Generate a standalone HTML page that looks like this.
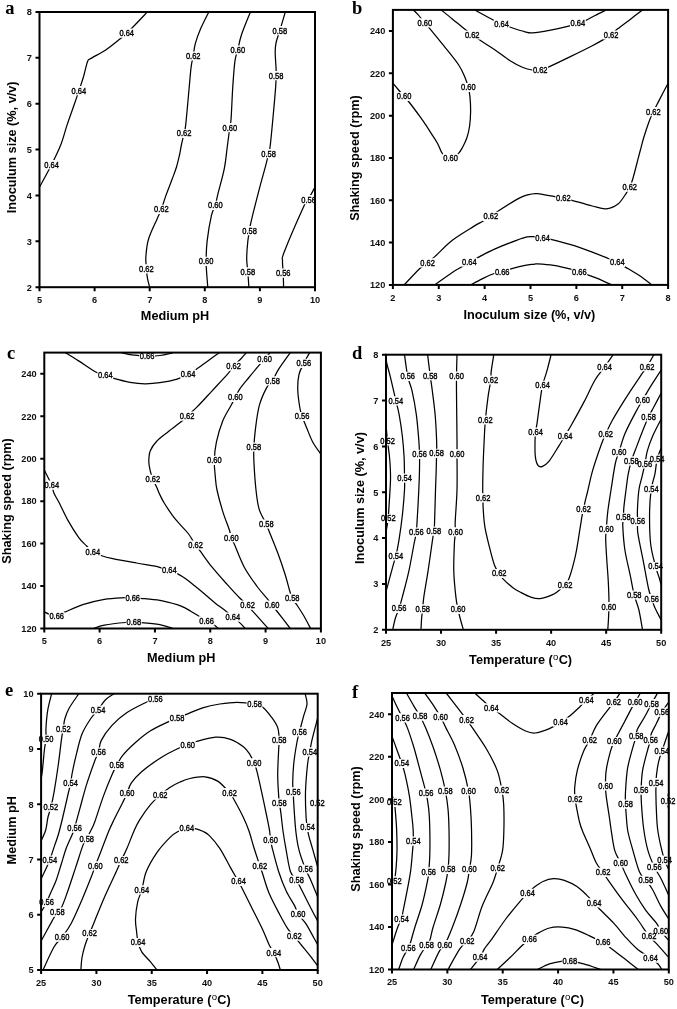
<!DOCTYPE html><html><head><meta charset="utf-8"><style>html,body{margin:0;padding:0;background:#fff;overflow:hidden;width:677px;height:1009px;}svg{display:block;filter:grayscale(1);}.tt{font-family:"Liberation Sans",sans-serif;font-weight:bold;font-size:12.7px;fill:#000;}.tk{font-family:"Liberation Sans",sans-serif;font-weight:bold;font-size:9.2px;fill:#111;}.lb{font-family:"Liberation Sans",sans-serif;font-size:8px;fill:#000;stroke:#000;stroke-width:0.35px;}.let{font-family:"Liberation Serif",serif;font-weight:bold;font-size:18.5px;fill:#000;}</style></head><body>
<svg width="677" height="1009" viewBox="0 0 677 1009">
<rect width="677" height="1009" fill="#fff"/>
<g id="pa">
<clipPath id="ca"><rect x="39.5" y="12" width="275.5" height="275.2"/></clipPath>
<path clip-path="url(#ca)" d="M147.4,11.9C144.92,14.5 135.95,23.97 132.5,27.5C129.05,31.03 128.85,31.13 126.7,33.1C124.55,35.07 123.1,36.48 119.6,39.3C116.1,42.12 110.52,46.8 105.7,50C100.88,53.2 93.73,56.53 90.7,58.5C87.67,60.47 88.75,58.58 87.5,61.8C86.25,65.02 84.63,72.98 83.2,77.8C81.77,82.62 80.33,86.42 78.9,90.7C77.47,94.98 76.57,97.8 74.6,103.5C72.63,109.2 69.42,117.98 67.1,124.9C64.78,131.82 63.3,138.37 60.7,145C58.1,151.63 55,157.73 51.5,164.7C48,171.67 41.67,183.12 39.7,186.8M208.8,12C207.45,14.77 202.95,23.33 200.7,28.6C198.45,33.87 196.55,39.03 195.3,43.6C194.05,48.17 193.9,52.08 193.2,56C192.5,59.92 191.82,61.32 191.1,67.1C190.38,72.88 189.8,81.07 188.9,90.7C188,100.33 186.52,117.77 185.7,124.9C184.88,132.03 184.72,130.15 184,133.5C183.28,136.85 182.15,141.42 181.4,145C180.65,148.58 180.32,151.33 179.5,155C178.68,158.67 177.73,162.95 176.5,167C175.27,171.05 173.92,174.4 172.1,179.3C170.28,184.2 167.38,191.4 165.6,196.4C163.82,201.4 162.82,205.55 161.4,209.3C159.98,213.05 159.25,213.92 157.1,218.9C154.95,223.88 150.37,232.95 148.5,239.2C146.63,245.45 146.25,251.47 145.9,256.4C145.55,261.33 146.15,265.23 146.4,268.8C146.65,272.37 146.87,274.73 147.4,277.8C147.93,280.87 149.23,285.63 149.6,287.2M250.4,12C248.9,15.83 243.5,28.67 241.4,35C239.3,41.33 238.87,45.72 237.8,50C236.73,54.28 235.83,54.63 235,60.7C234.17,66.77 233.45,76.77 232.8,86.4C232.15,96.03 231.6,111.62 231.1,118.5C230.6,125.38 230.4,123.28 229.8,127.7C229.2,132.12 228.42,138.18 227.5,145C226.58,151.82 225.92,160.38 224.3,168.6C222.68,176.82 219.3,188.17 217.8,194.3C216.3,200.43 216.37,201.83 215.3,205.4C214.23,208.97 212.77,209.7 211.4,215.7C210.03,221.7 207.98,233.8 207.1,241.4C206.22,249 206.17,255.95 206.1,261.3C206.03,266.65 206.42,269.18 206.7,273.5C206.98,277.82 207.62,284.92 207.8,287.2M285.3,12C284.38,15.12 281.28,25.62 279.75,30.7C278.22,35.78 276.86,38.93 276.1,42.5C275.34,46.07 275.2,47.63 275.2,52.1C275.2,56.57 275.95,65.37 276.1,69.3C276.25,73.23 276.17,72.85 276.1,75.7C276.03,78.55 276.13,80.33 275.7,86.4C275.27,92.47 274.4,102.33 273.5,112.1C272.6,121.87 271.12,138.08 270.3,145C269.48,151.92 269.32,150.38 268.6,153.6C267.88,156.82 267.68,157.88 266,164.3C264.32,170.72 261,182.47 258.5,192.1C256,201.73 252.5,215.67 251,222.1C249.5,228.53 250.03,227.48 249.5,230.7C248.97,233.92 248.27,236.77 247.8,241.4C247.33,246.03 246.7,253.43 246.7,258.5C246.7,263.57 247.43,267.02 247.8,271.8C248.17,276.58 248.72,284.63 248.9,287.2M315,186C314.93,186.3 315.67,185.7 314.6,187.8C313.53,189.9 310.45,195.38 308.6,198.6C306.75,201.82 307.57,198.18 303.5,207.1C299.43,216.02 287.7,243.17 284.2,252.1C280.7,261.03 282.67,257.2 282.5,260.7C282.33,264.2 283.02,268.68 283.2,273.1C283.38,277.52 283.53,284.85 283.6,287.2" fill="none" stroke="#000" stroke-width="1.25" stroke-linejoin="round"/>
<path d="M118.8,28.5h15.8v9.2h-15.8zM71,86.1h15.8v9.2h-15.8zM43.6,160.1h15.8v9.2h-15.8zM185.3,51.4h15.8v9.2h-15.8zM176.1,128.9h15.8v9.2h-15.8zM153.5,204.7h15.8v9.2h-15.8zM138.5,264.2h15.8v9.2h-15.8zM229.9,45.4h15.8v9.2h-15.8zM221.9,123.1h15.8v9.2h-15.8zM207.4,200.8h15.8v9.2h-15.8zM198.2,256.7h15.8v9.2h-15.8zM271.85,26.1h15.8v9.2h-15.8zM268.2,71.1h15.8v9.2h-15.8zM260.7,149h15.8v9.2h-15.8zM241.6,226.1h15.8v9.2h-15.8zM239.9,267.2h15.8v9.2h-15.8zM300.7,195h15.8v9.2h-15.8zM275.3,268.5h15.8v9.2h-15.8z" fill="#fff"/>
<g class="lb" text-anchor="middle"><text transform="translate(126.7,33.1) scale(0.94,1.17)" y="2.5">0.64</text><text transform="translate(78.9,90.7) scale(0.94,1.17)" y="2.5">0.64</text><text transform="translate(51.5,164.7) scale(0.94,1.17)" y="2.5">0.64</text><text transform="translate(193.2,56) scale(0.94,1.17)" y="2.5">0.62</text><text transform="translate(184,133.5) scale(0.94,1.17)" y="2.5">0.62</text><text transform="translate(161.4,209.3) scale(0.94,1.17)" y="2.5">0.62</text><text transform="translate(146.4,268.8) scale(0.94,1.17)" y="2.5">0.62</text><text transform="translate(237.8,50) scale(0.94,1.17)" y="2.5">0.60</text><text transform="translate(229.8,127.7) scale(0.94,1.17)" y="2.5">0.60</text><text transform="translate(215.3,205.4) scale(0.94,1.17)" y="2.5">0.60</text><text transform="translate(206.1,261.3) scale(0.94,1.17)" y="2.5">0.60</text><text transform="translate(279.75,30.7) scale(0.94,1.17)" y="2.5">0.58</text><text transform="translate(276.1,75.7) scale(0.94,1.17)" y="2.5">0.58</text><text transform="translate(268.6,153.6) scale(0.94,1.17)" y="2.5">0.58</text><text transform="translate(249.5,230.7) scale(0.94,1.17)" y="2.5">0.58</text><text transform="translate(247.8,271.8) scale(0.94,1.17)" y="2.5">0.58</text><text transform="translate(308.6,199.6) scale(0.94,1.17)" y="2.5">0.56</text><text transform="translate(283.2,273.1) scale(0.94,1.17)" y="2.5">0.56</text></g>
<rect x="39.5" y="12" width="275.5" height="275.2" fill="none" stroke="#000" stroke-width="2"/>
<path d="M39.5,287.2v4M94.6,287.2v4M149.7,287.2v4M204.8,287.2v4M259.9,287.2v4M315,287.2v4M39.5,287.2h-4M39.5,241.33h-4M39.5,195.47h-4M39.5,149.6h-4M39.5,103.73h-4M39.5,57.87h-4M39.5,12h-4" stroke="#000" stroke-width="2" fill="none"/>
<g class="tk"><text transform="translate(39.5,303) scale(1,1)" text-anchor="middle">5</text><text transform="translate(94.6,303) scale(1,1)" text-anchor="middle">6</text><text transform="translate(149.7,303) scale(1,1)" text-anchor="middle">7</text><text transform="translate(204.8,303) scale(1,1)" text-anchor="middle">8</text><text transform="translate(259.9,303) scale(1,1)" text-anchor="middle">9</text><text transform="translate(315,303) scale(1,1)" text-anchor="middle">10</text><text transform="translate(31.9,290.5) scale(1,1)" text-anchor="end">2</text><text transform="translate(31.9,244.63) scale(1,1)" text-anchor="end">3</text><text transform="translate(31.9,198.77) scale(1,1)" text-anchor="end">4</text><text transform="translate(31.9,152.9) scale(1,1)" text-anchor="end">5</text><text transform="translate(31.9,107.03) scale(1,1)" text-anchor="end">6</text><text transform="translate(31.9,61.17) scale(1,1)" text-anchor="end">7</text><text transform="translate(31.9,15.3) scale(1,1)" text-anchor="end">8</text></g>
<text x="175" y="320.1" text-anchor="middle" class="tt">Medium pH</text>
<text x="0" y="0" text-anchor="middle" transform="translate(16.4,147.4) rotate(-90)" class="tt">Inoculum size (%, v/v)</text>
<text x="5.3" y="14.2" class="let">a</text>
</g>
<g id="pb">
<clipPath id="cb"><rect x="392.9" y="9.9" width="275.2" height="275"/></clipPath>
<path clip-path="url(#cb)" d="M413.3,9.9C414.08,10.68 416.08,12.45 418,14.6C419.92,16.75 422.83,20.47 424.8,22.8C426.77,25.13 426.65,24.78 429.8,28.6C432.95,32.42 438.88,39.63 443.7,45.7C448.52,51.77 455.13,59.65 458.7,65C462.27,70.35 463.5,74.05 465.1,77.8C466.7,81.55 467.48,84.28 468.3,87.5C469.12,90.72 469.62,93.02 470,97.1C470.38,101.18 470.67,107.18 470.6,112C470.53,116.82 470.2,121.75 469.6,126C469,130.25 468.17,133.97 467,137.5C465.83,141.03 464.08,144.47 462.6,147.2C461.12,149.93 460.12,152.05 458.1,153.9C456.08,155.75 453.08,158.3 450.5,158.3C447.92,158.3 444.73,156.33 442.6,153.9C440.47,151.47 439.55,147.03 437.7,143.7C435.85,140.37 433.57,137.15 431.5,133.9C429.43,130.65 427.22,127.08 425.3,124.2C423.38,121.32 422.65,120.22 420,116.6C417.35,112.98 412.05,105.85 409.4,102.5C406.75,99.15 406.85,99.72 404.1,96.5C401.35,93.28 394.77,85.42 392.9,83.2M441.1,9.9C442.97,11.4 448.48,15.78 452.3,18.9C456.12,22.02 460.68,25.92 464,28.6C467.32,31.28 469.52,33.05 472.2,35C474.88,36.95 476.28,37.8 480.1,40.3C483.92,42.8 490.1,46.6 495.1,50C500.1,53.4 505.47,57.78 510.1,60.7C514.73,63.62 519.25,65.95 522.9,67.5C526.55,69.05 529.12,69.63 532,70C534.88,70.37 537.48,70.18 540.2,69.7C542.92,69.22 543.2,69.32 548.3,67.1C553.4,64.88 563.47,59.97 570.8,56.4C578.13,52.83 586.77,48.55 592.3,45.7C597.83,42.85 600.87,41.08 604,39.3C607.13,37.52 608.77,36.78 611.1,35C613.43,33.22 614.72,31.28 618,28.6C621.28,25.92 626.7,22.02 630.8,18.9C634.9,15.78 640.63,11.4 642.6,9.9M474.7,9.9C477.92,11.65 489.53,18.08 494,20.4C498.47,22.72 498.63,22.62 501.5,23.8C504.37,24.98 507.27,26.17 511.2,27.5C515.13,28.83 521.58,30.92 525.1,31.8C528.62,32.68 528.25,33.05 532.3,32.8C536.35,32.55 543.15,31.47 549.4,30.3C555.65,29.13 565.05,26.98 569.8,25.8C574.55,24.62 575.23,24.1 577.9,23.2C580.57,22.3 582.33,22 585.8,20.4C589.27,18.8 595.3,15.35 598.7,13.6C602.1,11.85 604.95,10.52 606.2,9.9M668.1,83.2C666.52,86.23 661.07,96.65 658.6,101.4C656.13,106.15 654.9,108.32 653.3,111.7C651.7,115.08 650.6,117.35 649,121.7C647.4,126.05 645.13,133.08 643.7,137.8C642.27,142.52 641.3,146.65 640.4,150C639.5,153.35 639.53,153.2 638.3,157.9C637.07,162.6 634.43,173.32 633,178.2C631.57,183.08 630.95,184.52 629.7,187.2C628.45,189.88 627.45,191.52 625.5,194.3C623.55,197.08 621.22,201.48 618,203.9C614.78,206.32 610.48,208.45 606.2,208.8C601.92,209.15 598.02,207.42 592.3,206C586.58,204.58 576.73,201.62 571.9,200.3C567.07,198.98 565.98,198.68 563.3,198.1C560.62,197.52 560.08,197.55 555.8,196.8C551.52,196.05 541.9,194.02 537.6,193.6C533.3,193.18 532.08,193.97 530,194.3C527.92,194.63 527.35,194.72 525.1,195.6C522.85,196.48 520.78,197.15 516.5,199.6C512.22,202.05 503.68,207.52 499.4,210.3C495.12,213.08 493.48,214.52 490.8,216.3C488.12,218.08 486.15,219.32 483.3,221C480.45,222.68 478.87,223.18 473.7,226.4C468.53,229.62 458.73,235.3 452.3,240.3C445.87,245.3 439.22,252.65 435.1,256.4C430.98,260.15 430.1,260.83 427.6,262.8C425.1,264.77 424.02,264.52 420.1,268.2C416.18,271.88 406.77,282.12 404.1,284.9M434.7,284.9C437.63,282.82 447.77,275.43 452.3,272.4C456.83,269.37 459.05,268.4 461.9,266.7C464.75,265 466.72,263.75 469.4,262.2C472.08,260.65 473.72,259.62 478,257.4C482.28,255.18 488.68,251.75 495.1,248.9C501.52,246.05 511.15,242.3 516.5,240.3C521.85,238.3 524.12,237.48 527.2,236.9C530.28,236.32 532.43,236.67 535,236.8C537.57,236.93 540.02,237.3 542.6,237.7C545.18,238.1 545.8,238.05 550.5,239.2C555.2,240.35 563.83,242.45 570.8,244.6C577.77,246.75 586.05,249.78 592.3,252.1C598.55,254.42 604.13,256.78 608.3,258.5C612.47,260.22 614.43,260.97 617.3,262.4C620.17,263.83 621.82,264.9 625.5,267.1C629.18,269.3 635.02,272.63 639.4,275.6C643.78,278.57 649.73,283.35 651.8,284.9M470.5,284.9C472.45,283.9 478.28,280.8 482.2,278.9C486.12,277 490.67,274.68 494,273.5C497.33,272.32 499.52,272.52 502.2,271.8C504.88,271.08 506.28,270.27 510.1,269.2C513.92,268.13 521.28,266.22 525.1,265.4C528.92,264.58 530.92,264.55 533,264.3C535.08,264.05 534.15,263.72 537.6,263.9C541.05,264.08 548.17,264.52 553.7,265.4C559.23,266.28 566.52,268.1 570.8,269.2C575.08,270.3 576.72,271.1 579.4,272C582.08,272.9 583.33,273.28 586.9,274.6C590.47,275.92 596.7,278.18 600.8,279.9C604.9,281.62 609.72,284.07 611.5,284.9" fill="none" stroke="#000" stroke-width="1.25" stroke-linejoin="round"/>
<path d="M416.9,18.2h15.8v9.2h-15.8zM460.4,82.9h15.8v9.2h-15.8zM396.2,91.9h15.8v9.2h-15.8zM442.6,153.7h15.8v9.2h-15.8zM464.3,30.4h15.8v9.2h-15.8zM532.3,65.1h15.8v9.2h-15.8zM603.2,30.4h15.8v9.2h-15.8zM493.6,19.2h15.8v9.2h-15.8zM570,18.6h15.8v9.2h-15.8zM645.4,107.1h15.8v9.2h-15.8zM621.8,182.6h15.8v9.2h-15.8zM555.4,193.5h15.8v9.2h-15.8zM482.9,211.7h15.8v9.2h-15.8zM419.7,258.2h15.8v9.2h-15.8zM461.5,257.6h15.8v9.2h-15.8zM534.7,233.1h15.8v9.2h-15.8zM609.4,257.8h15.8v9.2h-15.8zM494.3,267.2h15.8v9.2h-15.8zM571.5,267.4h15.8v9.2h-15.8z" fill="#fff"/>
<g class="lb" text-anchor="middle"><text transform="translate(424.8,22.8) scale(0.94,1.17)" y="2.5">0.60</text><text transform="translate(468.3,87.5) scale(0.94,1.17)" y="2.5">0.60</text><text transform="translate(404.1,96.5) scale(0.94,1.17)" y="2.5">0.60</text><text transform="translate(450.5,158.3) scale(0.94,1.17)" y="2.5">0.60</text><text transform="translate(472.2,35) scale(0.94,1.17)" y="2.5">0.62</text><text transform="translate(540.2,69.7) scale(0.94,1.17)" y="2.5">0.62</text><text transform="translate(611.1,35) scale(0.94,1.17)" y="2.5">0.62</text><text transform="translate(501.5,23.8) scale(0.94,1.17)" y="2.5">0.64</text><text transform="translate(577.9,23.2) scale(0.94,1.17)" y="2.5">0.64</text><text transform="translate(653.3,111.7) scale(0.94,1.17)" y="2.5">0.62</text><text transform="translate(629.7,187.2) scale(0.94,1.17)" y="2.5">0.62</text><text transform="translate(563.3,198.1) scale(0.94,1.17)" y="2.5">0.62</text><text transform="translate(490.8,216.3) scale(0.94,1.17)" y="2.5">0.62</text><text transform="translate(427.6,262.8) scale(0.94,1.17)" y="2.5">0.62</text><text transform="translate(469.4,262.2) scale(0.94,1.17)" y="2.5">0.64</text><text transform="translate(542.6,237.7) scale(0.94,1.17)" y="2.5">0.64</text><text transform="translate(617.3,262.4) scale(0.94,1.17)" y="2.5">0.64</text><text transform="translate(502.2,271.8) scale(0.94,1.17)" y="2.5">0.66</text><text transform="translate(579.4,272) scale(0.94,1.17)" y="2.5">0.66</text></g>
<rect x="392.9" y="9.9" width="275.2" height="275" fill="none" stroke="#000" stroke-width="2"/>
<path d="M392.9,284.9v4M438.77,284.9v4M484.63,284.9v4M530.5,284.9v4M576.37,284.9v4M622.23,284.9v4M668.1,284.9v4M392.9,284.9h-4M392.9,242.59h-4M392.9,200.28h-4M392.9,157.98h-4M392.9,115.67h-4M392.9,73.36h-4M392.9,31.05h-4" stroke="#000" stroke-width="2" fill="none"/>
<g class="tk"><text transform="translate(392.9,300.7) scale(1,1)" text-anchor="middle">2</text><text transform="translate(438.77,300.7) scale(1,1)" text-anchor="middle">3</text><text transform="translate(484.63,300.7) scale(1,1)" text-anchor="middle">4</text><text transform="translate(530.5,300.7) scale(1,1)" text-anchor="middle">5</text><text transform="translate(576.37,300.7) scale(1,1)" text-anchor="middle">6</text><text transform="translate(622.23,300.7) scale(1,1)" text-anchor="middle">7</text><text transform="translate(668.1,300.7) scale(1,1)" text-anchor="middle">8</text><text transform="translate(385.3,288.2) scale(1,1)" text-anchor="end">120</text><text transform="translate(385.3,245.89) scale(1,1)" text-anchor="end">140</text><text transform="translate(385.3,203.58) scale(1,1)" text-anchor="end">160</text><text transform="translate(385.3,161.28) scale(1,1)" text-anchor="end">180</text><text transform="translate(385.3,118.97) scale(1,1)" text-anchor="end">200</text><text transform="translate(385.3,76.66) scale(1,1)" text-anchor="end">220</text><text transform="translate(385.3,34.35) scale(1,1)" text-anchor="end">240</text></g>
<text x="529.4" y="318.8" text-anchor="middle" class="tt">Inoculum size (%, v/v)</text>
<text x="0" y="0" text-anchor="middle" transform="translate(358.8,158.1) rotate(-90)" class="tt">Shaking speed (rpm)</text>
<text x="352" y="14" class="let">b</text>
</g>
<g id="pc">
<clipPath id="cc"><rect x="44.3" y="352.6" width="276.6" height="275.9"/></clipPath>
<path clip-path="url(#cc)" d="M121.4,352.6C123.18,352.98 127.82,354.32 132.1,354.9C136.38,355.48 142.45,356 147.1,356.1C151.75,356.2 156.08,355.95 160,355.5C163.92,355.05 168.47,353.88 170.6,353.4C172.73,352.92 172.43,352.73 172.8,352.6M65.3,352.6C67.52,353.98 73.53,357.67 78.6,360.9C83.67,364.13 91.25,369.62 95.7,372C100.15,374.38 102.27,374.13 105.3,375.2C108.33,376.27 109.78,377.22 113.9,378.4C118.02,379.58 124.83,381.4 130,382.3C135.17,383.2 139.92,383.73 144.9,383.8C149.88,383.87 154.53,383.48 159.9,382.7C165.27,381.92 172.4,380.53 177.1,379.1C181.8,377.67 184.93,375.72 188.1,374.1C191.27,372.48 192.82,371.6 196.1,369.4C199.38,367.2 203.88,363.7 207.8,360.9C211.72,358.1 217.63,353.98 219.6,352.6M246.4,352.6C245.5,353.62 243.15,356.43 241,358.7C238.85,360.97 235.63,363.77 233.5,366.2C231.37,368.63 231.77,369.2 228.2,373.3C224.63,377.4 217.28,385.2 212.1,390.8C206.92,396.4 201.27,402.68 197.1,406.9C192.93,411.12 189.55,413.78 187.1,416.1C184.65,418.42 185.5,418.23 182.4,420.8C179.3,423.37 172.78,428.1 168.5,431.5C164.22,434.9 159.73,437.98 156.7,441.2C153.67,444.42 151.62,447.42 150.3,450.8C148.98,454.18 148.8,458.1 148.8,461.5C148.8,464.9 149.62,468.23 150.3,471.2C150.98,474.17 151.83,476.63 152.9,479.3C153.97,481.97 155.6,484.75 156.7,487.2C157.8,489.65 158.25,491.37 159.5,494C160.75,496.63 161.98,499.37 164.2,503C166.42,506.63 170.17,512.23 172.8,515.8C175.43,519.37 177.37,521.37 180,524.4C182.63,527.43 186,530.53 188.6,534C191.2,537.47 193.65,542.33 195.6,545.2C197.55,548.07 197.55,547.53 200.3,551.2C203.05,554.87 207.63,561.67 212.1,567.2C216.57,572.73 222.45,579.22 227.1,584.4C231.75,589.58 236.6,594.83 240,598.3C243.4,601.77 245.55,603.23 247.5,605.2C249.45,607.17 249.38,607.5 251.7,610.1C254.02,612.7 258.65,617.73 261.4,620.8C264.15,623.87 267.07,627.22 268.2,628.5M270,352.6C269.1,353.73 266.4,357.32 264.6,359.4C262.8,361.48 261.88,362 259.2,365.1C256.52,368.2 251.7,374.07 248.5,378C245.3,381.93 242.2,385.48 240,388.7C237.8,391.92 236.73,394.62 235.3,397.3C233.87,399.98 233.48,400.88 231.4,404.8C229.32,408.72 225.3,414.57 222.8,420.8C220.3,427.03 217.82,435.6 216.4,442.2C214.98,448.8 214.48,454.68 214.3,460.4C214.12,466.12 214.85,471.57 215.3,476.5C215.75,481.43 215.75,484.15 217,490C218.25,495.85 220.75,504.97 222.8,511.6C224.85,518.23 227.87,525.45 229.3,529.8C230.73,534.15 230.52,535.2 231.4,537.7C232.28,540.2 232.45,539.88 234.6,544.8C236.75,549.72 240.55,560.25 244.3,567.2C248.05,574.15 253.18,581.13 257.1,586.5C261.02,591.87 265.3,596.28 267.8,599.4C270.3,602.52 270.67,603.35 272.1,605.2C273.53,607.05 273.37,606.62 276.4,610.5C279.43,614.38 287.98,625.5 290.3,628.5M290.3,352.6C288.33,355.4 281.47,364.7 278.5,369.4C275.53,374.1 274.47,377.77 272.5,380.8C270.53,383.83 268.92,383.43 266.7,387.6C264.48,391.77 261.08,398.83 259.2,405.8C257.32,412.77 256.28,422.53 255.4,429.4C254.52,436.27 254.15,441.65 253.9,447C253.65,452.35 253.55,454.33 253.9,461.5C254.25,468.67 255.12,482.02 256,490C256.88,497.98 257.48,503.73 259.2,509.4C260.92,515.07 264.68,520.43 266.3,524C267.92,527.57 267.03,526.08 268.9,530.8C270.77,535.52 274.83,545.15 277.5,552.3C280.17,559.45 282.87,567.28 284.9,573.7C286.93,580.12 288.48,586.7 289.7,590.8C290.92,594.9 291.03,595.98 292.2,598.3C293.37,600.62 294.7,601.67 296.7,604.7C298.7,607.73 301.88,612.53 304.2,616.5C306.52,620.47 309.53,626.5 310.6,628.5M309.6,352.6C308.63,354.4 305.58,359.7 303.8,363.4C302.02,367.1 299.9,370.23 298.9,374.8C297.9,379.37 297.63,385.27 297.8,390.8C297.97,396.33 299.18,403.72 299.9,408C300.62,412.28 301.02,413.3 302.1,416.5C303.18,419.7 304.62,422.92 306.4,427.2C308.18,431.48 310.38,437.73 312.8,442.2C315.22,446.67 319.55,452.03 320.9,454M44.3,470.1C45.55,472.6 50.2,481.28 51.8,485.1C53.4,488.92 52.65,490.02 53.9,493C55.15,495.98 56.98,498.48 59.3,503C61.62,507.52 64.58,514.38 67.8,520.1C71.02,525.82 75.57,533.08 78.6,537.3C81.63,541.52 83.62,543.02 86,545.4C88.38,547.78 90.4,549.92 92.9,551.6C95.4,553.28 97.68,554.32 101,555.5C104.32,556.68 106.9,557.45 112.8,558.7C118.7,559.95 129.37,561.77 136.4,563C143.43,564.23 150.87,565.28 155,566.1C159.13,566.92 158.8,567.17 161.2,567.9C163.6,568.63 166.73,569.55 169.4,570.5C172.07,571.45 174.43,572.2 177.2,573.6C179.97,575 183.05,576.83 186,578.9C188.95,580.97 191.8,583.48 194.9,586C198,588.52 201.25,591.18 204.6,594C207.95,596.82 211.43,600.03 215,602.9C218.57,605.77 223.02,608.83 226,611.2C228.98,613.57 230.75,615.32 232.9,617.1C235.05,618.88 236.83,620 238.9,621.9C240.97,623.8 244.23,627.4 245.3,628.5M44.3,611.8C45.25,612.25 47.93,613.88 50,614.5C52.07,615.12 54.27,615.88 56.7,615.5C59.13,615.12 60.25,614 64.6,612.2C68.95,610.4 76.18,606.83 82.8,604.7C89.42,602.57 97.33,600.57 104.3,599.4C111.27,598.23 119.87,597.98 124.6,597.7C129.33,597.42 130.02,597.6 132.7,597.7C135.38,597.8 136.17,597.85 140.7,598.3C145.23,598.75 153.83,599.33 159.9,600.4C165.97,601.47 172.92,603.45 177.1,604.7C181.28,605.95 182.73,606.82 185,607.9C187.27,608.98 188.32,609.77 190.7,611.2C193.08,612.63 196.65,614.9 199.3,616.5C201.95,618.1 204.1,619.37 206.6,620.8C209.1,622.23 212.38,623.82 214.3,625.1C216.22,626.38 217.47,627.93 218.1,628.5M93.5,628.5C95.3,627.93 98.93,626.1 104.3,625.1C109.67,624.1 120.78,622.93 125.7,622.5C130.62,622.07 131.3,622.5 133.8,622.5C136.3,622.5 136.35,622.15 140.7,622.5C145.05,622.85 154.55,623.6 159.9,624.6C165.25,625.6 170.65,627.85 172.8,628.5" fill="none" stroke="#000" stroke-width="1.25" stroke-linejoin="round"/>
<path d="M139.2,351.5h15.8v9.2h-15.8zM97.4,370.6h15.8v9.2h-15.8zM180.2,369.5h15.8v9.2h-15.8zM225.6,361.6h15.8v9.2h-15.8zM179.2,411.5h15.8v9.2h-15.8zM145,474.7h15.8v9.2h-15.8zM256.7,354.8h15.8v9.2h-15.8zM227.4,392.7h15.8v9.2h-15.8zM206.4,455.8h15.8v9.2h-15.8zM264.6,376.2h15.8v9.2h-15.8zM246,442.4h15.8v9.2h-15.8zM295.9,358.8h15.8v9.2h-15.8zM294.2,411.9h15.8v9.2h-15.8zM43.9,480.5h15.8v9.2h-15.8zM85,547h15.8v9.2h-15.8zM161.5,565.9h15.8v9.2h-15.8zM48.8,611.9h15.8v9.2h-15.8zM124.8,593.1h15.8v9.2h-15.8zM125.9,617.9h15.8v9.2h-15.8zM187.7,540.6h15.8v9.2h-15.8zM239.6,600.6h15.8v9.2h-15.8zM223.5,533.1h15.8v9.2h-15.8zM264.2,600.6h15.8v9.2h-15.8zM258.4,519.4h15.8v9.2h-15.8zM284.3,593.7h15.8v9.2h-15.8zM225,612.5h15.8v9.2h-15.8zM198.7,616.2h15.8v9.2h-15.8z" fill="#fff"/>
<g class="lb" text-anchor="middle"><text transform="translate(147.1,356.1) scale(0.94,1.17)" y="2.5">0.66</text><text transform="translate(105.3,375.2) scale(0.94,1.17)" y="2.5">0.64</text><text transform="translate(188.1,374.1) scale(0.94,1.17)" y="2.5">0.64</text><text transform="translate(233.5,366.2) scale(0.94,1.17)" y="2.5">0.62</text><text transform="translate(187.1,416.1) scale(0.94,1.17)" y="2.5">0.62</text><text transform="translate(152.9,479.3) scale(0.94,1.17)" y="2.5">0.62</text><text transform="translate(264.6,359.4) scale(0.94,1.17)" y="2.5">0.60</text><text transform="translate(235.3,397.3) scale(0.94,1.17)" y="2.5">0.60</text><text transform="translate(214.3,460.4) scale(0.94,1.17)" y="2.5">0.60</text><text transform="translate(272.5,380.8) scale(0.94,1.17)" y="2.5">0.58</text><text transform="translate(253.9,447) scale(0.94,1.17)" y="2.5">0.58</text><text transform="translate(303.8,363.4) scale(0.94,1.17)" y="2.5">0.56</text><text transform="translate(302.1,416.5) scale(0.94,1.17)" y="2.5">0.56</text><text transform="translate(51.8,485.1) scale(0.94,1.17)" y="2.5">0.64</text><text transform="translate(92.9,551.6) scale(0.94,1.17)" y="2.5">0.64</text><text transform="translate(169.4,570.5) scale(0.94,1.17)" y="2.5">0.64</text><text transform="translate(56.7,616.5) scale(0.94,1.17)" y="2.5">0.66</text><text transform="translate(132.7,597.7) scale(0.94,1.17)" y="2.5">0.66</text><text transform="translate(133.8,622.5) scale(0.94,1.17)" y="2.5">0.68</text><text transform="translate(195.6,545.2) scale(0.94,1.17)" y="2.5">0.62</text><text transform="translate(247.5,605.2) scale(0.94,1.17)" y="2.5">0.62</text><text transform="translate(231.4,537.7) scale(0.94,1.17)" y="2.5">0.60</text><text transform="translate(272.1,605.2) scale(0.94,1.17)" y="2.5">0.60</text><text transform="translate(266.3,524) scale(0.94,1.17)" y="2.5">0.58</text><text transform="translate(292.2,598.3) scale(0.94,1.17)" y="2.5">0.58</text><text transform="translate(232.9,617.1) scale(0.94,1.17)" y="2.5">0.64</text><text transform="translate(206.6,620.8) scale(0.94,1.17)" y="2.5">0.66</text></g>
<rect x="44.3" y="352.6" width="276.6" height="275.9" fill="none" stroke="#000" stroke-width="2"/>
<path d="M44.3,628.5v4M99.62,628.5v4M154.94,628.5v4M210.26,628.5v4M265.58,628.5v4M320.9,628.5v4M44.3,628.5h-4M44.3,586.05h-4M44.3,543.61h-4M44.3,501.16h-4M44.3,458.72h-4M44.3,416.27h-4M44.3,373.82h-4" stroke="#000" stroke-width="2" fill="none"/>
<g class="tk"><text transform="translate(44.3,644.3) scale(1,1)" text-anchor="middle">5</text><text transform="translate(99.62,644.3) scale(1,1)" text-anchor="middle">6</text><text transform="translate(154.94,644.3) scale(1,1)" text-anchor="middle">7</text><text transform="translate(210.26,644.3) scale(1,1)" text-anchor="middle">8</text><text transform="translate(265.58,644.3) scale(1,1)" text-anchor="middle">9</text><text transform="translate(320.9,644.3) scale(1,1)" text-anchor="middle">10</text><text transform="translate(36.7,631.8) scale(1,1)" text-anchor="end">120</text><text transform="translate(36.7,589.35) scale(1,1)" text-anchor="end">140</text><text transform="translate(36.7,546.91) scale(1,1)" text-anchor="end">160</text><text transform="translate(36.7,504.46) scale(1,1)" text-anchor="end">180</text><text transform="translate(36.7,462.02) scale(1,1)" text-anchor="end">200</text><text transform="translate(36.7,419.57) scale(1,1)" text-anchor="end">220</text><text transform="translate(36.7,377.12) scale(1,1)" text-anchor="end">240</text></g>
<text x="181.2" y="662.4" text-anchor="middle" class="tt">Medium pH</text>
<text x="0" y="0" text-anchor="middle" transform="translate(10.9,500.9) rotate(-90)" class="tt">Shaking speed (rpm)</text>
<text x="6.9" y="359.1" class="let">c</text>
</g>
<g id="pd">
<clipPath id="cd"><rect x="386" y="354.7" width="275.2" height="275.1"/></clipPath>
<path clip-path="url(#cd)" d="M386,425C386.25,427.67 386.95,436 387.5,441C388.05,446 388.83,450.5 389.3,455C389.77,459.5 390.1,463.83 390.3,468C390.5,472.17 390.57,476 390.5,480C390.43,484 390.17,487.33 389.9,492C389.63,496.67 389.18,503.58 388.9,508C388.62,512.42 388.53,515.33 388.2,518.5C387.87,521.67 387.27,524.75 386.9,527C386.53,529.25 386.15,531.17 386,532M386.3,356C386.37,357.15 385.98,359.27 386.7,362.9C387.42,366.53 389.07,371.48 390.6,377.8C392.13,384.12 394.48,394.72 395.9,400.8C397.32,406.88 398.03,408.48 399.1,414.3C400.17,420.12 401.47,428.57 402.3,435.7C403.13,442.83 403.73,450.03 404.1,457.1C404.47,464.17 404.43,472.62 404.5,478.1C404.57,483.58 404.87,483.73 404.5,490C404.13,496.27 403.2,507.48 402.3,515.7C401.4,523.92 400.17,532.58 399.1,539.3C398.03,546.02 396.78,552.08 395.9,556C395.02,559.92 395.4,557.02 393.8,562.8C392.2,568.58 387.55,586.05 386.3,590.7M404.5,354.7C405.03,358.3 406.45,370.3 407.7,376.3C408.95,382.3 410.57,384.37 412,390.7C413.43,397.03 415.17,406.08 416.3,414.3C417.43,422.52 418.27,433.33 418.8,440C419.33,446.67 419.38,449.3 419.5,454.3C419.62,459.3 419.62,464.05 419.5,470C419.38,475.95 419.17,482.03 418.8,490C418.43,497.97 417.72,510.77 417.3,517.8C416.88,524.83 416.83,527.92 416.3,532.2C415.77,536.48 415.35,536.97 414.1,543.5C412.85,550.03 410.77,562.47 408.8,571.4C406.83,580.33 403.92,590.93 402.3,597.1C400.68,603.27 400.27,604.83 399.1,608.4C397.93,611.97 396.37,614.93 395.3,618.5C394.23,622.07 393.13,627.92 392.7,629.8M427.6,354.7C428.03,358.2 429.42,369.7 430.2,375.7C430.98,381.7 431.48,384.27 432.3,390.7C433.12,397.13 434.38,406.08 435.1,414.3C435.82,422.52 436.35,433.48 436.6,440C436.85,446.52 436.67,448.4 436.6,453.4C436.53,458.4 436.38,463.9 436.2,470C436.02,476.1 435.78,480.95 435.5,490C435.22,499.05 434.78,517.45 434.5,524.3C434.22,531.15 434.17,528.25 433.8,531.1C433.43,533.95 433.27,534.68 432.3,541.4C431.33,548.12 429.42,562.12 428,571.4C426.58,580.68 424.68,590.85 423.8,597.1C422.92,603.35 423.07,605.33 422.7,608.9C422.33,612.47 421.88,615.02 421.6,618.5C421.32,621.98 421.1,627.92 421,629.8M457,354.7C456.92,358.27 456.58,369.75 456.5,376.1C456.42,382.45 456.42,382.15 456.5,392.8C456.58,403.45 456.92,429.82 457,440C457.08,450.18 457,445.57 457,453.9C457,462.23 457.3,478.63 457,490C456.7,501.37 455.45,515.13 455.2,522.1C454.95,529.07 455.63,528.23 455.5,531.8C455.37,535.37 454.68,536.9 454.4,543.5C454.12,550.1 453.55,562.47 453.8,571.4C454.05,580.33 455.2,590.78 455.9,597.1C456.6,603.42 457.28,605.73 458,609.3C458.72,612.87 459.3,615.08 460.2,618.5C461.1,621.92 462.87,627.92 463.4,629.8M493.8,354.7C493.37,357.48 491.7,367.18 491.2,371.4C490.7,375.62 491.33,375.72 490.8,380C490.27,384.28 488.9,390.43 488,397.1C487.1,403.77 486,413.57 485.4,420C484.8,426.43 484.78,428.08 484.4,435.7C484.02,443.32 483.38,456.65 483.1,465.7C482.82,474.75 482.7,484.63 482.7,490C482.7,495.37 483.03,495.05 483.1,497.9C483.17,500.75 482.82,502.35 483.1,507.1C483.38,511.85 483.8,519.97 484.8,526.4C485.8,532.83 487.5,539.27 489.1,545.7C490.7,552.13 492.72,560.37 494.4,565C496.08,569.63 497.77,571.18 499.2,573.5C500.63,575.82 500.77,576.57 503,578.9C505.23,581.23 509.77,585.32 512.6,587.5C515.43,589.68 516.98,590.4 520,592C523.02,593.6 527.32,596 530.7,597.1C534.08,598.2 536.73,598.97 540.3,598.6C543.87,598.23 549.05,596.22 552.1,594.9C555.15,593.58 556.45,592.37 558.6,590.7C560.75,589.03 563.22,587.05 565,584.9C566.78,582.75 567.52,582.9 569.3,577.8C571.08,572.7 573.92,562.5 575.7,554.3C577.48,546.1 578.93,535.03 580,528.6C581.07,522.17 581.5,518.92 582.1,515.7C582.7,512.48 583.07,511.8 583.6,509.3C584.13,506.8 584.65,503.58 585.3,500.7C585.95,497.82 586.25,497.13 587.5,492C588.75,486.87 590.48,477.87 592.8,469.9C595.12,461.93 599.25,450.18 601.4,444.2C603.55,438.22 603.92,437.92 605.7,434C607.48,430.08 608.88,426.48 612.1,420.7C615.32,414.92 620.37,406.62 625,399.3C629.63,391.98 636.23,382.23 639.9,376.8C643.57,371.37 644.67,370.38 647,366.7C649.33,363.02 652.75,356.7 653.9,354.7M551.1,354.7C550.38,357.48 548.23,366.3 546.8,371.4C545.37,376.5 543.58,380.65 542.5,385.3C541.42,389.95 541.2,393.05 540.3,399.3C539.4,405.55 537.88,417.35 537.1,422.8C536.32,428.25 535.95,428.78 535.6,432C535.25,435.22 535.03,437.92 535,442.1C534.97,446.28 534.87,453.17 535.4,457.1C535.93,461.03 537.02,464.17 538.2,465.7C539.38,467.23 540.72,467.02 542.5,466.3C544.28,465.58 546.22,464.72 548.9,461.4C551.58,458.08 555.92,450.68 558.6,446.4C561.28,442.12 562.87,439.27 565,435.7C567.13,432.13 568.18,430.72 571.4,425C574.62,419.28 580.37,408.9 584.3,401.4C588.23,393.9 591.62,385.72 595,380C598.38,374.28 601.57,371.32 604.6,367.1C607.63,362.88 611.77,356.77 613.2,354.7M661.2,370C659.43,372.73 653.68,381.42 650.6,386.4C647.52,391.38 645.18,395.62 642.7,399.9C640.22,404.18 638.65,406.5 635.7,412.1C632.75,417.7 627.78,426.85 625,433.5C622.22,440.15 620.62,447 619,452C617.38,457 616.63,457.17 615.3,463.5C613.97,469.83 612.25,482.02 611,490C609.75,497.98 608.58,504.87 607.8,511.4C607.02,517.93 606.65,524.55 606.3,529.2C605.95,533.85 605.63,534.42 605.7,539.3C605.77,544.18 606.28,551.72 606.7,558.5C607.12,565.28 607.83,573.57 608.2,580C608.57,586.43 608.78,592.65 608.9,597.1C609.02,601.55 608.97,603.13 608.9,606.7C608.83,610.27 608.68,614.65 608.5,618.5C608.32,622.35 607.92,627.92 607.8,629.8M661.2,393C659.98,395.3 656.02,402.8 653.9,406.8C651.78,410.8 650.12,413.62 648.5,417C646.88,420.38 646.17,422.2 644.2,427.1C642.23,432 638.83,440.77 636.7,446.4C634.57,452.03 632.82,456.27 631.4,460.9C629.98,465.53 629.1,469.35 628.2,474.2C627.3,479.05 626.72,484.52 626,490C625.28,495.48 624.33,502.53 623.9,507.1C623.47,511.67 623.58,514.18 623.4,517.4C623.22,520.62 622.55,520.97 622.8,526.4C623.05,531.83 623.65,541.78 624.9,550C626.15,558.22 628.75,568.2 630.3,575.7C631.85,583.2 632.77,589.28 634.2,595C635.63,600.72 637.52,604.2 638.9,610C640.28,615.8 641.9,626.5 642.5,629.8M661.2,419C659.8,421.78 655.1,430.42 652.8,435.7C650.5,440.98 648.72,446 647.4,450.7C646.08,455.4 645.78,459.62 644.9,463.9C644.02,468.18 643.1,472.05 642.1,476.4C641.1,480.75 639.68,484.17 638.9,490C638.12,495.83 637.58,506.15 637.4,511.4C637.22,516.65 637.73,517.93 637.8,521.5C637.87,525.07 636.9,526.27 637.8,532.8C638.7,539.33 641.42,551.42 643.2,560.7C644.98,569.98 647.08,582.18 648.5,588.5C649.92,594.82 650.63,595.38 651.7,598.6C652.77,601.82 653.32,604.23 654.9,607.8C656.48,611.37 660.15,617.97 661.2,620M661.2,448C660.52,449.87 658.15,454.83 657.1,459.2C656.05,463.57 655.87,469.27 654.9,474.2C653.93,479.13 652.18,482.6 651.3,488.8C650.42,495 649.72,502.28 649.6,511.4C649.48,520.52 649.6,534.32 650.6,543.5C651.6,552.68 654.17,560.78 655.6,566.5C657.03,572.22 658.27,574.72 659.2,577.8C660.13,580.88 660.87,583.8 661.2,585" fill="none" stroke="#000" stroke-width="1.25" stroke-linejoin="round"/>
<path d="M388,396.2h15.8v9.2h-15.8zM396.6,473.5h15.8v9.2h-15.8zM388,551.4h15.8v9.2h-15.8zM379.6,436.4h15.8v9.2h-15.8zM380.5,513.9h15.8v9.2h-15.8zM399.8,371.7h15.8v9.2h-15.8zM411.6,449.7h15.8v9.2h-15.8zM408.4,527.6h15.8v9.2h-15.8zM391.2,603.8h15.8v9.2h-15.8zM422.3,371.1h15.8v9.2h-15.8zM428.7,448.8h15.8v9.2h-15.8zM425.9,526.5h15.8v9.2h-15.8zM414.8,604.3h15.8v9.2h-15.8zM448.6,371.5h15.8v9.2h-15.8zM449.1,449.3h15.8v9.2h-15.8zM447.6,527.2h15.8v9.2h-15.8zM450.1,604.7h15.8v9.2h-15.8zM482.9,375.4h15.8v9.2h-15.8zM477.5,415.4h15.8v9.2h-15.8zM475.2,493.3h15.8v9.2h-15.8zM491.3,568.9h15.8v9.2h-15.8zM557.1,580.3h15.8v9.2h-15.8zM575.7,504.7h15.8v9.2h-15.8zM534.6,380.7h15.8v9.2h-15.8zM527.7,427.4h15.8v9.2h-15.8zM557.1,431.1h15.8v9.2h-15.8zM596.7,362.5h15.8v9.2h-15.8zM639.1,362.1h15.8v9.2h-15.8zM597.8,429.4h15.8v9.2h-15.8zM634.8,395.3h15.8v9.2h-15.8zM611.1,447.4h15.8v9.2h-15.8zM598.4,524.6h15.8v9.2h-15.8zM601,602.1h15.8v9.2h-15.8zM640.6,412.4h15.8v9.2h-15.8zM623.5,456.3h15.8v9.2h-15.8zM615.5,512.8h15.8v9.2h-15.8zM626.3,590.4h15.8v9.2h-15.8zM637,459.3h15.8v9.2h-15.8zM629.9,516.9h15.8v9.2h-15.8zM643.8,594h15.8v9.2h-15.8zM649.2,454.6h15.8v9.2h-15.8zM643.4,484.2h15.8v9.2h-15.8zM647.7,561.9h15.8v9.2h-15.8z" fill="#fff"/>
<g class="lb" text-anchor="middle"><text transform="translate(395.9,400.8) scale(0.94,1.17)" y="2.5">0.54</text><text transform="translate(404.5,478.1) scale(0.94,1.17)" y="2.5">0.54</text><text transform="translate(395.9,556) scale(0.94,1.17)" y="2.5">0.54</text><text transform="translate(387.5,441) scale(0.94,1.17)" y="2.5">0.52</text><text transform="translate(388.4,518.5) scale(0.94,1.17)" y="2.5">0.52</text><text transform="translate(407.7,376.3) scale(0.94,1.17)" y="2.5">0.56</text><text transform="translate(419.5,454.3) scale(0.94,1.17)" y="2.5">0.56</text><text transform="translate(416.3,532.2) scale(0.94,1.17)" y="2.5">0.56</text><text transform="translate(399.1,608.4) scale(0.94,1.17)" y="2.5">0.56</text><text transform="translate(430.2,375.7) scale(0.94,1.17)" y="2.5">0.58</text><text transform="translate(436.6,453.4) scale(0.94,1.17)" y="2.5">0.58</text><text transform="translate(433.8,531.1) scale(0.94,1.17)" y="2.5">0.58</text><text transform="translate(422.7,608.9) scale(0.94,1.17)" y="2.5">0.58</text><text transform="translate(456.5,376.1) scale(0.94,1.17)" y="2.5">0.60</text><text transform="translate(457,453.9) scale(0.94,1.17)" y="2.5">0.60</text><text transform="translate(455.5,531.8) scale(0.94,1.17)" y="2.5">0.60</text><text transform="translate(458,609.3) scale(0.94,1.17)" y="2.5">0.60</text><text transform="translate(490.8,380) scale(0.94,1.17)" y="2.5">0.62</text><text transform="translate(485.4,420) scale(0.94,1.17)" y="2.5">0.62</text><text transform="translate(483.1,497.9) scale(0.94,1.17)" y="2.5">0.62</text><text transform="translate(499.2,573.5) scale(0.94,1.17)" y="2.5">0.62</text><text transform="translate(565,584.9) scale(0.94,1.17)" y="2.5">0.62</text><text transform="translate(583.6,509.3) scale(0.94,1.17)" y="2.5">0.62</text><text transform="translate(542.5,385.3) scale(0.94,1.17)" y="2.5">0.64</text><text transform="translate(535.6,432) scale(0.94,1.17)" y="2.5">0.64</text><text transform="translate(565,435.7) scale(0.94,1.17)" y="2.5">0.64</text><text transform="translate(604.6,367.1) scale(0.94,1.17)" y="2.5">0.64</text><text transform="translate(647,366.7) scale(0.94,1.17)" y="2.5">0.62</text><text transform="translate(605.7,434) scale(0.94,1.17)" y="2.5">0.62</text><text transform="translate(642.7,399.9) scale(0.94,1.17)" y="2.5">0.60</text><text transform="translate(619,452) scale(0.94,1.17)" y="2.5">0.60</text><text transform="translate(606.3,529.2) scale(0.94,1.17)" y="2.5">0.60</text><text transform="translate(608.9,606.7) scale(0.94,1.17)" y="2.5">0.60</text><text transform="translate(648.5,417) scale(0.94,1.17)" y="2.5">0.58</text><text transform="translate(631.4,460.9) scale(0.94,1.17)" y="2.5">0.58</text><text transform="translate(623.4,517.4) scale(0.94,1.17)" y="2.5">0.58</text><text transform="translate(634.2,595) scale(0.94,1.17)" y="2.5">0.58</text><text transform="translate(644.9,463.9) scale(0.94,1.17)" y="2.5">0.56</text><text transform="translate(637.8,521.5) scale(0.94,1.17)" y="2.5">0.56</text><text transform="translate(651.7,598.6) scale(0.94,1.17)" y="2.5">0.56</text><text transform="translate(657.1,459.2) scale(0.94,1.17)" y="2.5">0.54</text><text transform="translate(651.3,488.8) scale(0.94,1.17)" y="2.5">0.54</text><text transform="translate(655.6,566.5) scale(0.94,1.17)" y="2.5">0.54</text></g>
<rect x="386" y="354.7" width="275.2" height="275.1" fill="none" stroke="#000" stroke-width="2"/>
<path d="M386,629.8v4M441.04,629.8v4M496.08,629.8v4M551.12,629.8v4M606.16,629.8v4M661.2,629.8v4M386,629.8h-4M386,583.95h-4M386,538.1h-4M386,492.25h-4M386,446.4h-4M386,400.55h-4M386,354.7h-4" stroke="#000" stroke-width="2" fill="none"/>
<g class="tk"><text transform="translate(386,645.6) scale(1,1)" text-anchor="middle">25</text><text transform="translate(441.04,645.6) scale(1,1)" text-anchor="middle">30</text><text transform="translate(496.08,645.6) scale(1,1)" text-anchor="middle">35</text><text transform="translate(551.12,645.6) scale(1,1)" text-anchor="middle">40</text><text transform="translate(606.16,645.6) scale(1,1)" text-anchor="middle">45</text><text transform="translate(661.2,645.6) scale(1,1)" text-anchor="middle">50</text><text transform="translate(378.4,633.1) scale(1,1)" text-anchor="end">2</text><text transform="translate(378.4,587.25) scale(1,1)" text-anchor="end">3</text><text transform="translate(378.4,541.4) scale(1,1)" text-anchor="end">4</text><text transform="translate(378.4,495.55) scale(1,1)" text-anchor="end">5</text><text transform="translate(378.4,449.7) scale(1,1)" text-anchor="end">6</text><text transform="translate(378.4,403.85) scale(1,1)" text-anchor="end">7</text><text transform="translate(378.4,358) scale(1,1)" text-anchor="end">8</text></g>
<text x="520.6" y="664.3" text-anchor="middle" class="tt">Temperature (<tspan font-size="9.6" font-weight="normal" dx="0.3" dy="-4.1">o</tspan><tspan dx="0.3" dy="4.1">C)</tspan></text>
<text x="0" y="0" text-anchor="middle" transform="translate(363.6,498) rotate(-90)" class="tt">Inoculum size (%, v/v)</text>
<text x="352" y="359.1" class="let">d</text>
</g>
<g id="pe">
<clipPath id="ce"><rect x="41.1" y="693.7" width="276.6" height="276.3"/></clipPath>
<path clip-path="url(#ce)" d="M51.6,693.7C50.95,696.48 48.63,704.75 47.7,710.4C46.77,716.05 46.28,722.78 46,727.6C45.72,732.42 46.25,735.73 46,739.3C45.75,742.87 45.1,743.82 44.5,749C43.9,754.18 42.97,765.4 42.4,770.4C41.83,775.4 41.32,777.57 41.1,779M78.8,693.7C77.18,696.13 71.43,704.08 69.1,708.3C66.77,712.52 65.77,715.55 64.8,719C63.83,722.45 63.83,725.78 63.3,729C62.77,732.22 62.42,732.47 61.6,738.3C60.78,744.13 59.65,755.08 58.4,764C57.15,772.92 55.35,784.6 54.1,791.8C52.85,799 51.93,802.92 50.9,807.2C49.87,811.48 48.77,813.7 47.9,817.5C47.03,821.3 46.83,826.08 45.7,830C44.57,833.92 41.87,839.17 41.1,841M114.1,693.7C112.67,694.7 108.18,696.98 105.5,699.7C102.82,702.42 100.5,706.78 98,710C95.5,713.22 93.17,715 90.5,719C87.83,723 84.32,728.28 82,734C79.68,739.72 78.22,746.88 76.6,753.3C74.98,759.72 73.3,767.52 72.3,772.5C71.3,777.48 71.3,779.62 70.6,783.2C69.9,786.78 69.42,788.28 68.1,794C66.78,799.72 64.3,810.83 62.7,817.5C61.1,824.17 59.88,829.23 58.5,834C57.12,838.77 55.85,841.75 54.4,846.1C52.95,850.45 50.92,856.97 49.8,860.1C48.68,863.23 48.42,863.3 47.7,864.9C46.98,866.5 46.6,867.35 45.5,869.7C44.4,872.05 41.83,877.45 41.1,879M164.4,693.7C162.9,694.52 158.43,697.17 155.4,698.6C152.37,700.03 150.93,699.97 146.2,702.3C141.47,704.63 132.7,708.75 127,712.6C121.3,716.45 116.28,720.77 112,725.4C107.72,730.03 103.55,735.93 101.3,740.4C99.05,744.87 99.58,748.8 98.5,752.2C97.42,755.6 96.83,755.27 94.8,760.8C92.77,766.33 88.8,777.38 86.3,785.4C83.8,793.42 81.77,801.77 79.8,808.9C77.83,816.03 75.65,824.18 74.5,828.2C73.35,832.22 74.25,829.75 72.9,833C71.55,836.25 68.33,842.53 66.4,847.7C64.47,852.87 62.98,858.62 61.3,864C59.62,869.38 58.1,875.12 56.3,880C54.5,884.88 52.12,889.55 50.5,893.3C48.88,897.05 47.78,900.02 46.6,902.5C45.42,904.98 44.32,906.62 43.4,908.2C42.48,909.78 41.48,911.37 41.1,912M41.1,941C42.92,937.68 49.3,925.92 52,921.1C54.7,916.28 55.7,914.42 57.3,912.1C58.9,909.78 59.98,910.33 61.6,907.2C63.22,904.07 64.67,899.9 67,893.3C69.33,886.7 72.93,875.63 75.6,867.6C78.27,859.57 81.15,849.93 83,845.1C84.85,840.27 85.27,841.28 86.7,838.6C88.13,835.92 90.25,831.8 91.6,829C92.95,826.2 92.83,827.28 94.8,821.8C96.77,816.32 100.53,803.95 103.4,796.1C106.27,788.25 109.78,779.8 112,774.7C114.22,769.6 114.92,768.72 116.7,765.5C118.48,762.28 119.57,759.23 122.7,755.4C125.83,751.57 130.87,746.6 135.5,742.5C140.13,738.4 144.78,734.37 150.5,730.8C156.22,727.23 165.38,723.28 169.8,721.1C174.22,718.92 174.37,718.77 177,717.7C179.63,716.63 181.32,716.35 185.6,714.7C189.88,713.05 197,709.58 202.7,707.8C208.4,706.02 214.08,704.92 219.8,704C225.52,703.08 231.22,702.3 237,702.3C242.78,702.3 250.22,703.18 254.5,704C258.78,704.82 259.92,705.07 262.7,707.2C265.48,709.33 268.7,713.4 271.2,716.8C273.7,720.2 276.37,723.67 277.7,727.6C279.03,731.53 279.03,736.83 279.2,740.4C279.37,743.97 278.95,743.28 278.7,749C278.45,754.72 277.7,766.85 277.7,774.7C277.7,782.55 278.42,791.35 278.7,796.1C278.98,800.85 279.03,800.35 279.4,803.2C279.77,806.05 280.3,808.57 280.9,813.2C281.5,817.83 282.12,824.8 283,831C283.88,837.2 284.95,843.6 286.2,850.4C287.45,857.2 288.78,866.87 290.5,871.8C292.22,876.73 294.72,877.13 296.5,880C298.28,882.87 298.8,884.3 301.2,889C303.6,893.7 308.15,902.87 310.9,908.2C313.65,913.53 316.57,918.87 317.7,921M43,970C44.85,966.13 50.92,952.27 54.1,946.8C57.28,941.33 59.23,941.13 62.1,937.2C64.97,933.27 67.98,929.45 71.3,923.2C74.62,916.95 78.62,907.55 82,899.7C85.38,891.85 89.38,881.75 91.6,876.1C93.82,870.45 93.68,870.08 95.3,865.8C96.92,861.52 99.05,856.2 101.3,850.4C103.55,844.6 106.67,836.13 108.8,831C110.93,825.87 111.78,824.35 114.1,819.6C116.42,814.85 120.55,806.85 122.7,802.5C124.85,798.15 125.58,796.72 127,793.5C128.42,790.28 128.72,786.87 131.2,783.2C133.68,779.53 136.9,775.78 141.9,771.5C146.9,767.22 155.35,761.25 161.2,757.5C167.05,753.75 172.58,751.07 177,749C181.42,746.93 184.48,746.35 187.7,745.1C190.92,743.85 191.65,742.82 196.3,741.5C200.95,740.18 209.9,737.57 215.6,737.2C221.3,736.83 225.87,737.7 230.5,739.3C235.13,740.9 240.18,744.3 243.4,746.8C246.62,749.3 248.02,751.62 249.8,754.3C251.58,756.98 252.95,760.22 254.1,762.9C255.25,765.58 255.45,765.58 256.7,770.4C257.95,775.22 259.88,783.95 261.6,791.8C263.32,799.65 265.67,810.97 267,817.5C268.33,824.03 269,827.23 269.6,831C270.2,834.77 270.15,837.22 270.6,840.1C271.05,842.98 270.95,843.02 272.3,848.3C273.65,853.58 276.38,864.67 278.7,871.8C281.02,878.93 283.52,885.38 286.2,891.1C288.88,896.82 292.83,902.25 294.8,906.1C296.77,909.95 296.22,911.35 298,914.2C299.78,917.05 302.82,919.2 305.5,923.2C308.18,927.2 312.07,934.62 314.1,938.2C316.13,941.78 317.1,943.62 317.7,944.7M80.9,970C81.08,967.92 81.28,961.72 82,957.5C82.72,953.28 83.95,948.7 85.2,944.7C86.45,940.7 88.07,937.08 89.5,933.5C90.93,929.92 91.48,928.83 93.8,923.2C96.12,917.57 99.67,908.27 103.4,899.7C107.13,891.13 113.23,878.33 116.2,871.8C119.17,865.27 119.4,864.42 121.2,860.5C123,856.58 124.87,853.22 127,848.3C129.13,843.38 131.87,835.78 134,831C136.13,826.22 137.05,823.98 139.8,819.6C142.55,815.22 147.1,808.8 150.5,804.7C153.9,800.6 156.98,797.87 160.2,795C163.42,792.13 166.5,789.67 169.8,787.5C173.1,785.33 176.65,783.5 180,782C183.35,780.5 185.77,779.37 189.9,778.5C194.03,777.63 200.17,776.37 204.8,776.8C209.43,777.23 213.58,778.45 217.7,781.1C221.82,783.75 226.82,789.67 229.5,792.7C232.18,795.73 231.48,795.17 233.8,799.3C236.12,803.43 240.87,812.22 243.4,817.5C245.93,822.78 247.22,825.87 249,831C250.78,836.13 252.28,842.5 254.1,848.3C255.92,854.1 258.47,861.52 259.9,865.8C261.33,870.08 261.17,869.42 262.7,874C264.23,878.58 266.25,886.52 269.1,893.3C271.95,900.08 276.58,908.63 279.8,914.7C283.02,920.77 285.97,926.13 288.4,929.7C290.83,933.27 292.43,933.78 294.4,936.1C296.37,938.42 297.63,940.38 300.2,943.6C302.77,946.82 306.88,951.67 309.8,955.4C312.72,959.13 316.38,964.23 317.7,966M156.9,970C155.83,968.63 153,964.77 150.5,961.8C148,958.83 143.97,955.42 141.9,952.2C139.83,948.98 138.98,945.9 138.1,942.5C137.22,939.1 137.03,935.72 136.6,931.8C136.17,927.88 135.32,924 135.5,919C135.68,914 136.63,906.67 137.7,901.8C138.77,896.93 140.48,894.8 141.9,889.8C143.32,884.8 143.7,878 146.2,871.8C148.7,865.6 152.97,858.3 156.9,852.6C160.83,846.9 166.28,841.12 169.8,837.6C173.32,834.08 175.15,832.97 178,831.5C180.85,830.03 184.03,829.27 186.9,828.8C189.77,828.33 192.57,828.28 195.2,828.7C197.83,829.12 200.38,830.18 202.7,831.3C205.02,832.42 206.25,832.57 209.1,835.4C211.95,838.23 216.23,842.93 219.8,848.3C223.37,853.67 227.38,862.07 230.5,867.6C233.62,873.13 236.7,878.3 238.5,881.5C240.3,884.7 239.05,882.35 241.3,886.8C243.55,891.25 248.43,901.05 252,908.2C255.57,915.35 259.85,923.62 262.7,929.7C265.55,935.78 267.25,940.88 269.1,944.7C270.95,948.52 272.37,949.75 273.8,952.6C275.23,955.45 276.6,958.9 277.7,961.8C278.8,964.7 279.95,968.63 280.4,970M305.1,693.7C305.42,695.42 307.28,700.15 307,704C306.72,707.85 304.65,712.17 303.4,716.8C302.15,721.43 300.58,727.52 299.5,731.8C298.42,736.08 297.87,737.13 296.9,742.5C295.93,747.87 294.4,757.22 293.7,764C293,770.78 292.77,778.57 292.7,783.2C292.63,787.83 293.13,788.58 293.3,791.8C293.47,795.02 293.28,795.97 293.7,802.5C294.12,809.03 294.9,823.02 295.8,831C296.7,838.98 297.48,844.07 299.1,850.4C300.72,856.73 303.53,864 305.5,869C307.47,874 308.87,875.73 310.9,880.4C312.93,885.07 316.57,894.23 317.7,897M317.7,718C316.73,721.73 313.22,734.77 311.9,740.4C310.58,746.03 310.52,747.87 309.8,751.8C309.08,755.73 308.32,757.33 307.6,764C306.88,770.67 305.75,782.88 305.5,791.8C305.25,800.72 305.75,811.4 306.1,817.5C306.45,823.6 307.17,825.42 307.6,828.4C308.03,831.38 307.8,831.73 308.7,835.4C309.6,839.07 311.5,845.13 313,850.4C314.5,855.67 316.92,864.23 317.7,867" fill="none" stroke="#000" stroke-width="1.25" stroke-linejoin="round"/>
<path d="M38.1,734.7h15.8v9.2h-15.8zM55.4,724.4h15.8v9.2h-15.8zM43,802.6h15.8v9.2h-15.8zM90.1,705.4h15.8v9.2h-15.8zM62.7,778.6h15.8v9.2h-15.8zM42,855.5h15.8v9.2h-15.8zM147.5,694h15.8v9.2h-15.8zM90.6,747.6h15.8v9.2h-15.8zM66.6,823.6h15.8v9.2h-15.8zM38.7,897.9h15.8v9.2h-15.8zM169.1,713.1h15.8v9.2h-15.8zM108.8,760.9h15.8v9.2h-15.8zM78.8,834h15.8v9.2h-15.8zM49.4,907.5h15.8v9.2h-15.8zM119.1,788.9h15.8v9.2h-15.8zM87.4,861.2h15.8v9.2h-15.8zM54.2,932.6h15.8v9.2h-15.8zM152.3,790.4h15.8v9.2h-15.8zM113.3,855.9h15.8v9.2h-15.8zM81.6,928.9h15.8v9.2h-15.8zM179,823.9h15.8v9.2h-15.8zM134,885.2h15.8v9.2h-15.8zM130.2,937.9h15.8v9.2h-15.8zM246.6,699.4h15.8v9.2h-15.8zM271.3,735.8h15.8v9.2h-15.8zM271.5,798.6h15.8v9.2h-15.8zM179.8,740.5h15.8v9.2h-15.8zM246.2,758.3h15.8v9.2h-15.8zM221.6,788.1h15.8v9.2h-15.8zM291.6,727.2h15.8v9.2h-15.8zM285.4,787.2h15.8v9.2h-15.8zM301.9,747.2h15.8v9.2h-15.8zM299.6,822.9h15.8v9.2h-15.8zM309.5,798.3h15.8v9.2h-15.8zM230.6,876.9h15.8v9.2h-15.8zM265.9,948h15.8v9.2h-15.8zM252,861.2h15.8v9.2h-15.8zM286.5,931.5h15.8v9.2h-15.8zM262.7,835.5h15.8v9.2h-15.8zM290.1,909.6h15.8v9.2h-15.8zM288.6,875.4h15.8v9.2h-15.8zM297.6,864.4h15.8v9.2h-15.8z" fill="#fff"/>
<g class="lb" text-anchor="middle"><text transform="translate(46,739.3) scale(0.94,1.17)" y="2.5">0.50</text><text transform="translate(63.3,729) scale(0.94,1.17)" y="2.5">0.52</text><text transform="translate(50.9,807.2) scale(0.94,1.17)" y="2.5">0.52</text><text transform="translate(98,710) scale(0.94,1.17)" y="2.5">0.54</text><text transform="translate(70.6,783.2) scale(0.94,1.17)" y="2.5">0.54</text><text transform="translate(49.9,860.1) scale(0.94,1.17)" y="2.5">0.54</text><text transform="translate(155.4,698.6) scale(0.94,1.17)" y="2.5">0.56</text><text transform="translate(98.5,752.2) scale(0.94,1.17)" y="2.5">0.56</text><text transform="translate(74.5,828.2) scale(0.94,1.17)" y="2.5">0.56</text><text transform="translate(46.6,902.5) scale(0.94,1.17)" y="2.5">0.56</text><text transform="translate(177,717.7) scale(0.94,1.17)" y="2.5">0.58</text><text transform="translate(116.7,765.5) scale(0.94,1.17)" y="2.5">0.58</text><text transform="translate(86.7,838.6) scale(0.94,1.17)" y="2.5">0.58</text><text transform="translate(57.3,912.1) scale(0.94,1.17)" y="2.5">0.58</text><text transform="translate(127,793.5) scale(0.94,1.17)" y="2.5">0.60</text><text transform="translate(95.3,865.8) scale(0.94,1.17)" y="2.5">0.60</text><text transform="translate(62.1,937.2) scale(0.94,1.17)" y="2.5">0.60</text><text transform="translate(160.2,795) scale(0.94,1.17)" y="2.5">0.62</text><text transform="translate(121.2,860.5) scale(0.94,1.17)" y="2.5">0.62</text><text transform="translate(89.5,933.5) scale(0.94,1.17)" y="2.5">0.62</text><text transform="translate(186.9,828.5) scale(0.94,1.17)" y="2.5">0.64</text><text transform="translate(141.9,889.8) scale(0.94,1.17)" y="2.5">0.64</text><text transform="translate(138.1,942.5) scale(0.94,1.17)" y="2.5">0.64</text><text transform="translate(254.5,704) scale(0.94,1.17)" y="2.5">0.58</text><text transform="translate(279.2,740.4) scale(0.94,1.17)" y="2.5">0.58</text><text transform="translate(279.4,803.2) scale(0.94,1.17)" y="2.5">0.58</text><text transform="translate(187.7,745.1) scale(0.94,1.17)" y="2.5">0.60</text><text transform="translate(254.1,762.9) scale(0.94,1.17)" y="2.5">0.60</text><text transform="translate(229.5,792.7) scale(0.94,1.17)" y="2.5">0.62</text><text transform="translate(299.5,731.8) scale(0.94,1.17)" y="2.5">0.56</text><text transform="translate(293.3,791.8) scale(0.94,1.17)" y="2.5">0.56</text><text transform="translate(309.8,751.8) scale(0.94,1.17)" y="2.5">0.54</text><text transform="translate(307.5,827.5) scale(0.94,1.17)" y="2.5">0.54</text><text transform="translate(317.4,802.9) scale(0.94,1.17)" y="2.5">0.52</text><text transform="translate(238.5,881.5) scale(0.94,1.17)" y="2.5">0.64</text><text transform="translate(273.8,952.6) scale(0.94,1.17)" y="2.5">0.64</text><text transform="translate(259.9,865.8) scale(0.94,1.17)" y="2.5">0.62</text><text transform="translate(294.4,936.1) scale(0.94,1.17)" y="2.5">0.62</text><text transform="translate(270.6,840.1) scale(0.94,1.17)" y="2.5">0.60</text><text transform="translate(298,914.2) scale(0.94,1.17)" y="2.5">0.60</text><text transform="translate(296.5,880) scale(0.94,1.17)" y="2.5">0.58</text><text transform="translate(305.5,869) scale(0.94,1.17)" y="2.5">0.56</text></g>
<rect x="41.1" y="693.7" width="276.6" height="276.3" fill="none" stroke="#000" stroke-width="2"/>
<path d="M41.1,970v4M96.42,970v4M151.74,970v4M207.06,970v4M262.38,970v4M317.7,970v4M41.1,970h-4M41.1,914.74h-4M41.1,859.48h-4M41.1,804.22h-4M41.1,748.96h-4M41.1,693.7h-4" stroke="#000" stroke-width="2" fill="none"/>
<g class="tk"><text transform="translate(41.1,985.8) scale(1,1)" text-anchor="middle">25</text><text transform="translate(96.42,985.8) scale(1,1)" text-anchor="middle">30</text><text transform="translate(151.74,985.8) scale(1,1)" text-anchor="middle">35</text><text transform="translate(207.06,985.8) scale(1,1)" text-anchor="middle">40</text><text transform="translate(262.38,985.8) scale(1,1)" text-anchor="middle">45</text><text transform="translate(317.7,985.8) scale(1,1)" text-anchor="middle">50</text><text transform="translate(33.5,973.3) scale(1,1)" text-anchor="end">5</text><text transform="translate(33.5,918.04) scale(1,1)" text-anchor="end">6</text><text transform="translate(33.5,862.78) scale(1,1)" text-anchor="end">7</text><text transform="translate(33.5,807.52) scale(1,1)" text-anchor="end">8</text><text transform="translate(33.5,752.26) scale(1,1)" text-anchor="end">9</text><text transform="translate(33.5,697) scale(1,1)" text-anchor="end">10</text></g>
<text x="179.2" y="1004.3" text-anchor="middle" class="tt">Temperature (<tspan font-size="9.6" font-weight="normal" dx="0.3" dy="-4.1">o</tspan><tspan dx="0.3" dy="4.1">C)</tspan></text>
<text x="0" y="0" text-anchor="middle" transform="translate(15.6,830.2) rotate(-90)" class="tt">Medium pH</text>
<text x="5.1" y="696.3" class="let">e</text>
</g>
<g id="pf">
<clipPath id="cf"><rect x="392" y="693" width="276.8" height="276.5"/></clipPath>
<path clip-path="url(#cf)" d="M392,795C392.4,796.25 393.82,799.47 394.4,802.5C394.98,805.53 395.13,808.78 395.5,813.2C395.87,817.62 396.35,822.8 396.6,829C396.85,835.2 397.08,843.97 397,850.4C396.92,856.83 396.53,862.53 396.1,867.6C395.67,872.67 395.08,877.57 394.4,880.8C393.72,884.03 392.4,885.97 392,887M392,736.1C392.77,738.25 394.95,744.43 396.6,749C398.25,753.57 400.48,759.22 401.9,763.5C403.32,767.78 403.85,769.27 405.1,774.7C406.35,780.13 408.25,788.97 409.4,796.1C410.55,803.23 411.38,812.02 412,817.5C412.62,822.98 412.88,825.05 413.1,829C413.32,832.95 413.38,837.63 413.3,841.2C413.22,844.77 413.07,845.3 412.6,850.4C412.13,855.5 411.57,864.3 410.5,871.8C409.43,879.3 407.45,888.78 406.2,895.4C404.95,902.02 403.78,907.57 403,911.5C402.22,915.43 402.4,916.33 401.5,919C400.6,921.67 399.18,923.17 397.6,927.5C396.02,931.83 392.93,942.08 392,945M392,696C392.77,697.68 394.83,702.45 396.6,706.1C398.37,709.75 400.82,714.32 402.6,717.9C404.38,721.48 405.45,722.78 407.3,727.6C409.15,732.42 411.57,739.67 413.7,746.8C415.83,753.93 418.03,762.68 420.1,770.4C422.17,778.12 424.67,786.68 426.1,793.1C427.53,799.52 428.08,802.92 428.7,808.9C429.32,814.88 429.62,821.37 429.8,829C429.98,836.63 429.98,847.57 429.8,854.7C429.62,861.83 429.07,867.52 428.7,871.8C428.33,876.08 428.67,875.03 427.6,880.4C426.53,885.77 424.43,896.15 422.3,904C420.17,911.85 416.77,921.08 414.8,927.5C412.83,933.92 411.58,939.1 410.5,942.5C409.42,945.9 409.55,945.4 408.3,947.9C407.05,950.4 404.6,953.9 403,957.5C401.4,961.1 399.42,967.5 398.7,969.5M406.4,693C407.65,695.18 411.62,702.23 413.9,706.1C416.18,709.97 418.17,712.62 420.1,716.2C422.03,719.78 423.35,722.5 425.5,727.6C427.65,732.7 430.5,739.67 433,746.8C435.5,753.93 438.43,763.03 440.5,770.4C442.57,777.77 444.15,784.58 445.4,791C446.65,797.42 447.4,802.57 448,808.9C448.6,815.23 448.83,821.37 449,829C449.17,836.63 449.17,847.98 449,854.7C448.83,861.42 448.53,864.67 448,869.3C447.47,873.93 447.05,876.72 445.8,882.5C444.55,888.28 442.63,896.5 440.5,904C438.37,911.5 434.78,921.43 433,927.5C431.22,933.57 430.87,937.43 429.8,940.4C428.73,943.37 428.22,942.8 426.6,945.3C424.98,947.8 422.25,951.37 420.1,955.4C417.95,959.43 414.77,967.15 413.7,969.5M424.6,693C426.15,695.18 431.25,702.13 433.9,706.1C436.55,710.07 438.52,713.22 440.5,716.8C442.48,720.38 443.48,722.95 445.8,727.6C448.12,732.25 451.53,737.93 454.4,744.7C457.27,751.47 460.65,760.48 463,768.2C465.35,775.92 467.25,784.22 468.5,791C469.75,797.78 470,802.57 470.5,808.9C471,815.23 471.33,821.37 471.5,829C471.67,836.63 471.85,847.98 471.5,854.7C471.15,861.42 470.12,864.67 469.4,869.3C468.68,873.93 468.63,876.72 467.2,882.5C465.77,888.28 463.28,896.5 460.8,904C458.32,911.5 454.97,920.72 452.3,927.5C449.63,934.28 446.95,940.77 444.8,944.7C442.65,948.63 441.73,946.97 439.4,951.1C437.07,955.23 432.23,966.43 430.8,969.5M446.2,693C447.88,695.18 452.9,701.67 456.3,706.1C459.7,710.53 463.7,715.67 466.6,719.6C469.5,723.53 470.38,724.8 473.7,729.7C477.02,734.6 482.58,742.22 486.5,749C490.42,755.78 494.63,763.55 497.2,770.4C499.77,777.25 500.82,784.38 501.9,790.1C502.98,795.82 503.37,798.22 503.7,804.7C504.03,811.18 504.08,821.38 503.9,829C503.72,836.62 503.63,843.9 502.6,850.4C501.57,856.9 499.3,862.65 497.7,868C496.1,873.35 495.58,876.15 493,882.5C490.42,888.85 485.42,897.88 482.2,906.1C478.98,914.32 476.2,925.98 473.7,931.8C471.2,937.62 469.52,938.15 467.2,941C464.88,943.85 463,944.15 459.8,948.9C456.6,953.65 449.97,966.07 448,969.5M474.7,693C476.13,694.3 480.52,698.33 483.3,700.8C486.08,703.27 488.72,705.67 491.4,707.8C494.08,709.93 495.93,711.02 499.4,713.6C502.87,716.18 507.92,720.43 512.2,723.3C516.48,726.17 521.3,729.18 525.1,730.8C528.9,732.42 530.95,733.37 535,733C539.05,732.63 545.13,730.4 549.4,728.6C553.67,726.8 557.38,724.17 560.6,722.2C563.82,720.23 565.57,719.3 568.7,716.8C571.83,714.3 576.47,709.98 579.4,707.2C582.33,704.42 584.15,702.13 586.3,700.1C588.45,698.07 590.95,696.18 592.3,695C593.65,693.82 594.05,693.33 594.4,693M620.1,693C619.03,694.58 615.67,699.78 613.7,702.5C611.73,705.22 611.17,705.48 608.3,709.3C605.43,713.12 599.6,720.28 596.5,725.4C593.4,730.52 591.83,735.72 589.7,740C587.57,744.28 585.77,746.03 583.7,751.1C581.63,756.17 578.8,764.33 577.3,770.4C575.8,776.47 575.07,782.75 574.7,787.5C574.33,792.25 574.75,795.33 575.1,798.9C575.45,802.47 576.07,805.05 576.8,808.9C577.53,812.75 578.55,818.32 579.5,822C580.45,825.68 580.73,826.62 582.5,831C584.27,835.38 587.77,842.92 590.1,848.3C592.43,853.68 594.35,859.3 596.5,863.3C598.65,867.3 601.03,869.45 603,872.3C604.97,875.15 605.1,875.83 608.3,880.4C611.5,884.97 617.38,893.27 622.2,899.7C627.02,906.13 632.73,912.93 637.2,919C641.67,925.07 645.78,932 649,936.1C652.22,940.2 653.2,940.03 656.5,943.6C659.8,947.17 666.75,955.18 668.8,957.5M640.4,693C639.52,694.55 636.47,699.95 635.1,702.3C633.73,704.65 634,703.78 632.2,707.1C630.4,710.42 626.95,717.17 624.3,722.2C621.65,727.23 617.97,734.08 616.3,737.3C614.63,740.52 615.27,739.2 614.3,741.5C613.33,743.8 611.85,746.28 610.5,751.1C609.15,755.92 607.03,764.58 606.2,770.4C605.37,776.22 605.5,781.72 605.5,786C605.5,790.28 605.55,790.85 606.2,796.1C606.85,801.35 608.6,812.02 609.4,817.5C610.2,822.98 610.12,823.52 611,829C611.88,834.48 613.08,844.77 614.7,850.4C616.32,856.03 618.9,858.87 620.7,862.8C622.5,866.73 623.1,868.92 625.5,874C627.9,879.08 631.72,887.23 635.1,893.3C638.48,899.37 642.23,905.42 645.8,910.4C649.37,915.38 654,919.73 656.5,923.2C659,926.67 658.75,928.33 660.8,931.2C662.85,934.07 667.47,938.87 668.8,940.4M657.6,693C656.6,694.77 653.75,699.63 651.6,703.6C649.45,707.57 647.1,712.45 644.7,716.8C642.3,721.15 638.62,726.42 637.2,729.7C635.78,732.98 636.9,733.65 636.2,736.5C635.5,739.35 634.43,741.52 633,746.8C631.57,752.08 628.85,760.7 627.6,768.2C626.35,775.7 625.85,785.8 625.5,791.8C625.15,797.8 625.4,800.63 625.5,804.2C625.6,807.77 625.72,808.73 626.1,813.2C626.48,817.67 626.67,824.8 627.8,831C628.93,837.2 630.97,843.6 632.9,850.4C634.83,857.2 637.25,866.8 639.4,871.8C641.55,876.8 643.67,877.53 645.8,880.4C647.93,883.27 649.7,884.72 652.2,889C654.7,893.28 658.03,901.1 660.8,906.1C663.57,911.1 667.47,916.85 668.8,919M668.8,702C667.65,703.68 663.95,708.55 661.9,712.1C659.85,715.65 658.28,719.65 656.5,723.3C654.72,726.95 652.17,731.22 651.2,734C650.23,736.78 651.25,737.5 650.7,740C650.15,742.5 649.25,743.93 647.9,749C646.55,754.07 643.73,763.55 642.6,770.4C641.47,777.25 641.28,784.38 641.1,790.1C640.92,795.82 641.07,798.22 641.5,804.7C641.93,811.18 642.63,821.38 643.7,829C644.77,836.62 646.12,844.05 647.9,850.4C649.68,856.75 652.25,862.45 654.4,867.1C656.55,871.75 658.4,873.58 660.8,878.3C663.2,883.02 667.47,892.55 668.8,895.4M668.8,730.8C667.65,734.18 663.6,745.93 661.9,751.1C660.2,756.27 659.5,757.87 658.6,761.8C657.7,765.73 656.92,771.2 656.5,774.7C656.08,778.2 656.2,779.6 656.1,782.8C656,786 655.83,788.83 655.9,793.9C655.97,798.97 656.22,807.35 656.5,813.2C656.78,819.05 656.88,823.52 657.6,829C658.32,834.48 659.63,840.92 660.8,846.1C661.97,851.28 663.27,856.17 664.6,860.1C665.93,864.03 668.1,868.1 668.8,869.7M668.8,792C668.63,792.83 668.02,795.5 667.8,797C667.58,798.5 667.5,799.67 667.5,801C667.5,802.33 667.58,803.5 667.8,805C668.02,806.5 668.63,809.17 668.8,810M470.5,969.5C472.1,967.43 477.78,960.53 480.1,957.1C482.42,953.67 482.62,951.68 484.4,948.9C486.18,946.12 487.23,945.38 490.8,940.4C494.37,935.42 500.98,925.43 505.8,919C510.62,912.57 516.08,906.08 519.7,901.8C523.32,897.52 525.22,895.62 527.5,893.3C529.78,890.98 530.82,889.87 533.4,887.9C535.98,885.93 539.62,883.03 543,881.5C546.38,879.97 550.13,878.88 553.7,878.7C557.27,878.52 560.47,879.05 564.4,880.4C568.33,881.75 573.55,884.3 577.3,886.8C581.05,889.3 584.12,892.72 586.9,895.4C589.68,898.08 591.85,900.58 594,902.9C596.15,905.22 596.52,905.92 599.8,909.3C603.08,912.68 609.25,918.38 613.7,923.2C618.15,928.02 622.58,933.92 626.5,938.2C630.42,942.48 633.2,945.58 637.2,948.9C641.2,952.22 647.1,955.67 650.5,958.1C653.9,960.53 655.7,961.6 657.6,963.5C659.5,965.4 661.18,968.5 661.9,969.5M497.2,969.5C499.35,967.5 505.82,961.63 510.1,957.5C514.38,953.37 519.67,947.73 522.9,944.7C526.13,941.67 527.22,941.08 529.5,939.3C531.78,937.52 533.28,935.88 536.6,934C539.92,932.12 545.12,929.15 549.4,928C553.68,926.85 558.02,926.82 562.3,927.1C566.58,927.38 570.47,928.2 575.1,929.7C579.73,931.2 585.45,933.97 590.1,936.1C594.75,938.23 599.6,940.53 603,942.5C606.4,944.47 606.93,945.22 610.5,947.9C614.07,950.58 619.77,955 624.4,958.6C629.03,962.2 635.98,967.68 638.3,969.5M537.6,969.5C539.57,968.57 545.47,965.25 549.4,963.9C553.33,962.55 557.8,961.87 561.2,961.4C564.6,960.93 566.05,960.68 569.8,961.1C573.55,961.52 578.53,962.5 583.7,963.9C588.87,965.3 597.95,968.57 600.8,969.5" fill="none" stroke="#000" stroke-width="1.25" stroke-linejoin="round"/>
<path d="M394.7,713.3h15.8v9.2h-15.8zM418.2,788.5h15.8v9.2h-15.8zM420.8,867.2h15.8v9.2h-15.8zM400.4,943.3h15.8v9.2h-15.8zM412.2,711.6h15.8v9.2h-15.8zM437.5,786.4h15.8v9.2h-15.8zM440.1,864.7h15.8v9.2h-15.8zM418.7,940.7h15.8v9.2h-15.8zM432.6,712.2h15.8v9.2h-15.8zM460.6,786.4h15.8v9.2h-15.8zM461.5,864.7h15.8v9.2h-15.8zM436.9,940.1h15.8v9.2h-15.8zM458.7,715h15.8v9.2h-15.8zM494,785.5h15.8v9.2h-15.8zM489.8,863.4h15.8v9.2h-15.8zM459.3,936.4h15.8v9.2h-15.8zM483.5,703.2h15.8v9.2h-15.8zM552.7,717.6h15.8v9.2h-15.8zM578.4,695.5h15.8v9.2h-15.8zM394,758.9h15.8v9.2h-15.8zM405.4,836.6h15.8v9.2h-15.8zM393.6,914.4h15.8v9.2h-15.8zM386.5,797.9h15.8v9.2h-15.8zM386.5,876.2h15.8v9.2h-15.8zM605.8,697.9h15.8v9.2h-15.8zM581.8,735.4h15.8v9.2h-15.8zM567.2,794.3h15.8v9.2h-15.8zM595.1,867.7h15.8v9.2h-15.8zM641.1,931.5h15.8v9.2h-15.8zM627.2,697.7h15.8v9.2h-15.8zM606.4,736.9h15.8v9.2h-15.8zM597.6,781.4h15.8v9.2h-15.8zM612.8,858.2h15.8v9.2h-15.8zM652.9,926.6h15.8v9.2h-15.8zM643.7,699h15.8v9.2h-15.8zM628.3,731.9h15.8v9.2h-15.8zM617.6,799.6h15.8v9.2h-15.8zM637.9,875.8h15.8v9.2h-15.8zM654,707.5h15.8v9.2h-15.8zM642.8,735.4h15.8v9.2h-15.8zM633.2,785.5h15.8v9.2h-15.8zM646.5,862.5h15.8v9.2h-15.8zM654,746.5h15.8v9.2h-15.8zM648.1,778.1h15.8v9.2h-15.8zM656.7,855.5h15.8v9.2h-15.8zM660.2,796.3h15.8v9.2h-15.8zM519.6,888.7h15.8v9.2h-15.8zM586.1,898.3h15.8v9.2h-15.8zM472.2,952.5h15.8v9.2h-15.8zM642.6,953.5h15.8v9.2h-15.8zM521.6,934.7h15.8v9.2h-15.8zM595.1,937.9h15.8v9.2h-15.8zM561.9,956.5h15.8v9.2h-15.8z" fill="#fff"/>
<g class="lb" text-anchor="middle"><text transform="translate(402.6,717.9) scale(0.94,1.17)" y="2.5">0.56</text><text transform="translate(426.1,793.1) scale(0.94,1.17)" y="2.5">0.56</text><text transform="translate(428.7,871.8) scale(0.94,1.17)" y="2.5">0.56</text><text transform="translate(408.3,947.9) scale(0.94,1.17)" y="2.5">0.56</text><text transform="translate(420.1,716.2) scale(0.94,1.17)" y="2.5">0.58</text><text transform="translate(445.4,791) scale(0.94,1.17)" y="2.5">0.58</text><text transform="translate(448,869.3) scale(0.94,1.17)" y="2.5">0.58</text><text transform="translate(426.6,945.3) scale(0.94,1.17)" y="2.5">0.58</text><text transform="translate(440.5,716.8) scale(0.94,1.17)" y="2.5">0.60</text><text transform="translate(468.5,791) scale(0.94,1.17)" y="2.5">0.60</text><text transform="translate(469.4,869.3) scale(0.94,1.17)" y="2.5">0.60</text><text transform="translate(444.8,944.7) scale(0.94,1.17)" y="2.5">0.60</text><text transform="translate(466.6,719.6) scale(0.94,1.17)" y="2.5">0.62</text><text transform="translate(501.9,790.1) scale(0.94,1.17)" y="2.5">0.62</text><text transform="translate(497.7,868) scale(0.94,1.17)" y="2.5">0.62</text><text transform="translate(467.2,941) scale(0.94,1.17)" y="2.5">0.62</text><text transform="translate(491.4,707.8) scale(0.94,1.17)" y="2.5">0.64</text><text transform="translate(560.6,722.2) scale(0.94,1.17)" y="2.5">0.64</text><text transform="translate(586.3,700.1) scale(0.94,1.17)" y="2.5">0.64</text><text transform="translate(401.9,763.5) scale(0.94,1.17)" y="2.5">0.54</text><text transform="translate(413.3,841.2) scale(0.94,1.17)" y="2.5">0.54</text><text transform="translate(401.5,919) scale(0.94,1.17)" y="2.5">0.54</text><text transform="translate(394.4,802.5) scale(0.94,1.17)" y="2.5">0.52</text><text transform="translate(394.4,880.8) scale(0.94,1.17)" y="2.5">0.52</text><text transform="translate(613.7,702.5) scale(0.94,1.17)" y="2.5">0.62</text><text transform="translate(589.7,740) scale(0.94,1.17)" y="2.5">0.62</text><text transform="translate(575.1,798.9) scale(0.94,1.17)" y="2.5">0.62</text><text transform="translate(603,872.3) scale(0.94,1.17)" y="2.5">0.62</text><text transform="translate(649,936.1) scale(0.94,1.17)" y="2.5">0.62</text><text transform="translate(635.1,702.3) scale(0.94,1.17)" y="2.5">0.60</text><text transform="translate(614.3,741.5) scale(0.94,1.17)" y="2.5">0.60</text><text transform="translate(605.5,786) scale(0.94,1.17)" y="2.5">0.60</text><text transform="translate(620.7,862.8) scale(0.94,1.17)" y="2.5">0.60</text><text transform="translate(660.8,931.2) scale(0.94,1.17)" y="2.5">0.60</text><text transform="translate(651.6,703.6) scale(0.94,1.17)" y="2.5">0.58</text><text transform="translate(636.2,736.5) scale(0.94,1.17)" y="2.5">0.58</text><text transform="translate(625.5,804.2) scale(0.94,1.17)" y="2.5">0.58</text><text transform="translate(645.8,880.4) scale(0.94,1.17)" y="2.5">0.58</text><text transform="translate(661.9,712.1) scale(0.94,1.17)" y="2.5">0.56</text><text transform="translate(650.7,740) scale(0.94,1.17)" y="2.5">0.56</text><text transform="translate(641.1,790.1) scale(0.94,1.17)" y="2.5">0.56</text><text transform="translate(654.4,867.1) scale(0.94,1.17)" y="2.5">0.56</text><text transform="translate(661.9,751.1) scale(0.94,1.17)" y="2.5">0.54</text><text transform="translate(656,782.7) scale(0.94,1.17)" y="2.5">0.54</text><text transform="translate(664.6,860.1) scale(0.94,1.17)" y="2.5">0.54</text><text transform="translate(668.1,800.9) scale(0.94,1.17)" y="2.5">0.52</text><text transform="translate(527.5,893.3) scale(0.94,1.17)" y="2.5">0.64</text><text transform="translate(594,902.9) scale(0.94,1.17)" y="2.5">0.64</text><text transform="translate(480.1,957.1) scale(0.94,1.17)" y="2.5">0.64</text><text transform="translate(650.5,958.1) scale(0.94,1.17)" y="2.5">0.64</text><text transform="translate(529.5,939.3) scale(0.94,1.17)" y="2.5">0.66</text><text transform="translate(603,942.5) scale(0.94,1.17)" y="2.5">0.66</text><text transform="translate(569.8,961.1) scale(0.94,1.17)" y="2.5">0.68</text></g>
<rect x="392" y="693" width="276.8" height="276.5" fill="none" stroke="#000" stroke-width="2"/>
<path d="M392,969.5v4M447.36,969.5v4M502.72,969.5v4M558.08,969.5v4M613.44,969.5v4M668.8,969.5v4M392,969.5h-4M392,926.96h-4M392,884.42h-4M392,841.88h-4M392,799.35h-4M392,756.81h-4M392,714.27h-4" stroke="#000" stroke-width="2" fill="none"/>
<g class="tk"><text transform="translate(392,985.3) scale(1,1)" text-anchor="middle">25</text><text transform="translate(447.36,985.3) scale(1,1)" text-anchor="middle">30</text><text transform="translate(502.72,985.3) scale(1,1)" text-anchor="middle">35</text><text transform="translate(558.08,985.3) scale(1,1)" text-anchor="middle">40</text><text transform="translate(613.44,985.3) scale(1,1)" text-anchor="middle">45</text><text transform="translate(668.8,985.3) scale(1,1)" text-anchor="middle">50</text><text transform="translate(384.4,972.8) scale(1,1)" text-anchor="end">120</text><text transform="translate(384.4,930.26) scale(1,1)" text-anchor="end">140</text><text transform="translate(384.4,887.72) scale(1,1)" text-anchor="end">160</text><text transform="translate(384.4,845.18) scale(1,1)" text-anchor="end">180</text><text transform="translate(384.4,802.65) scale(1,1)" text-anchor="end">200</text><text transform="translate(384.4,760.11) scale(1,1)" text-anchor="end">220</text><text transform="translate(384.4,717.57) scale(1,1)" text-anchor="end">240</text></g>
<text x="532.5" y="1004.3" text-anchor="middle" class="tt">Temperature (<tspan font-size="9.6" font-weight="normal" dx="0.3" dy="-4.1">o</tspan><tspan dx="0.3" dy="4.1">C)</tspan></text>
<text x="0" y="0" text-anchor="middle" transform="translate(360.4,829) rotate(-90)" class="tt">Shaking speed (rpm)</text>
<text x="352" y="698.2" class="let">f</text>
</g>
</svg></body></html>
